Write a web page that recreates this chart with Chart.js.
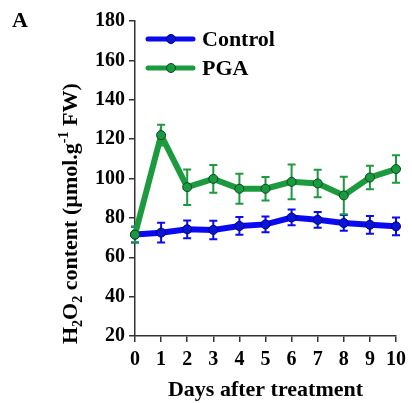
<!DOCTYPE html>
<html>
<head>
<meta charset="utf-8">
<script src="https://cdn.jsdelivr.net/npm/chart.js@4/dist/chart.umd.min.js"></script>
<style>
html,body{margin:0;padding:0;background:#fff;}
#wrap{width:412px;height:403px;}
</style>
</head>
<body>
<div id="wrap"><canvas id="c" width="412" height="403"></canvas></div>
<script>
const days = [0,1,2,3,4,5,6,7,8,9,10];
const controlValues = [71.5,72.5,74.2,73.9,75.9,76.7,80.2,79.0,77.4,76.5,75.7];
const controlErrors = [4.0,5.0,4.5,4.7,4.5,4.0,4.0,4.0,4.0,4.5,4.5];
const pgaValues = [71.5,122.0,95.6,99.8,94.8,94.8,98.3,97.5,91.4,100.5,104.8];
const pgaErrors = [4.0,5.3,9.0,7.0,7.6,6.0,8.8,7.0,9.5,6.0,7.0];
const yTicks = [20,40,60,80,100,120,140,160,180];
const seriesNames = ['Control','PGA'];

const BLUE = '#0a0af2', BLUE_PT = '#0a14d6', BLUE_EDGE = '#00007a';
const GREEN = '#1c9a3e', GREEN_PT = '#1a9a40', GREEN_EDGE = '#0b4a1c';
const SERIF = '"Liberation Serif","Times New Roman",serif';

const errorBars = {
  id: 'errorBars',
  beforeDatasetsDraw(chart) {
    const ctx = chart.ctx;
    const ys = chart.scales.y;
    chart.data.datasets.forEach((ds, i) => {
      const meta = chart.getDatasetMeta(i);
      ctx.save();
      ctx.strokeStyle = ds.errColor;
      ctx.lineWidth = 2;
      meta.data.forEach((pt, j) => {
        const v = ds.data[j].y, e = ds.errors[j];
        const yt = ys.getPixelForValue(v + e), yb = ys.getPixelForValue(v - e);
        ctx.beginPath();
        ctx.moveTo(pt.x, yt); ctx.lineTo(pt.x, yb);
        ctx.moveTo(pt.x - 4, yt); ctx.lineTo(pt.x + 4, yt);
        ctx.moveTo(pt.x - 4, yb); ctx.lineTo(pt.x + 4, yb);
        ctx.stroke();
      });
      ctx.restore();
    });
  }
};

const decorations = {
  id: 'decorations',
  afterDraw(chart) {
    const ctx = chart.ctx;
    const ca = chart.chartArea;
    ctx.save();
    ctx.fillStyle = '#000';
    // panel letter
    ctx.font = 'bold 22px ' + SERIF;
    ctx.textBaseline = 'alphabetic';
    ctx.textAlign = 'left';
    ctx.fillText('A', 12, 27);
    // x title
    ctx.textAlign = 'center';
    ctx.fillText('Days after treatment', (ca.left + ca.right) / 2, 396);
    // y title with sub/superscripts
    const parts = [
      ['H', 0], ['2', 1], ['O', 0], ['2', 1], [' content (µmol.g', 0], ['-1', -1], [' FW)', 0]
    ];
    const big = 'bold 22px ' + SERIF, small = 'bold 14px ' + SERIF;
    let total = 0;
    parts.forEach(p => { ctx.font = p[1] ? small : big; total += ctx.measureText(p[0]).width; });
    ctx.translate(77, 344);
    ctx.rotate(-Math.PI / 2);
    ctx.textAlign = 'left';
    let x = 0;
    parts.forEach(p => {
      ctx.font = p[1] ? small : big;
      const dy = p[1] === 1 ? 5 : (p[1] === -1 ? -9 : 0);
      ctx.fillText(p[0], x, dy);
      x += ctx.measureText(p[0]).width;
    });
    ctx.restore();
    // legend
    const items = [[BLUE, BLUE_PT, BLUE_EDGE, 39], [GREEN, GREEN_PT, GREEN_EDGE, 68]];
    items.forEach((it, i) => {
      ctx.save();
      ctx.strokeStyle = it[0];
      ctx.lineWidth = 5;
      ctx.lineCap = 'round';
      ctx.beginPath(); ctx.moveTo(148, it[3]); ctx.lineTo(193, it[3]); ctx.stroke();
      ctx.beginPath(); ctx.arc(171, it[3], 4.5, 0, Math.PI * 2);
      ctx.fillStyle = it[1]; ctx.fill();
      ctx.lineWidth = 1; ctx.strokeStyle = it[2]; ctx.stroke();
      ctx.fillStyle = '#000';
      ctx.font = 'bold 22px ' + SERIF;
      ctx.textAlign = 'left';
      ctx.textBaseline = 'middle';
      ctx.fillText(seriesNames[i], 202, it[3] + 1);
      ctx.restore();
    });
  }
};

const toXY = (vals) => vals.map((v, i) => ({x: days[i], y: v}));

new Chart(document.getElementById('c'), {
  type: 'line',
  data: {
    datasets: [
      {
        label: seriesNames[0], data: toXY(controlValues), errors: controlErrors, errColor: BLUE,
        borderColor: BLUE, borderWidth: 6, backgroundColor: BLUE_PT,
        pointBackgroundColor: BLUE_PT, pointBorderColor: BLUE_EDGE, pointBorderWidth: 1,
        pointRadius: 4.5, tension: 0, order: 2, clip: false
      },
      {
        label: seriesNames[1], data: toXY(pgaValues), errors: pgaErrors, errColor: GREEN,
        borderColor: GREEN, borderWidth: 6, backgroundColor: GREEN_PT,
        pointBackgroundColor: GREEN_PT, pointBorderColor: GREEN_EDGE, pointBorderWidth: 1,
        pointRadius: 4.5, tension: 0, order: 1, clip: false
      }
    ]
  },
  options: {
    responsive: false,
    animation: false,
    devicePixelRatio: 1,
    layout: { padding: { top: 21, right: 13, left: 0, bottom: 0 } },
    plugins: { legend: { display: false }, tooltip: { enabled: false }, title: { display: false } },
    scales: {
      x: {
        type: 'linear', min: 0, max: 10, offset: false,
        afterFit(s) { s.height = 67; },
        ticks: { stepSize: 1, color: '#000', font: { family: SERIF, size: 20, weight: 'bold' }, padding: 6, maxRotation: 0 },
        grid: { drawOnChartArea: false, drawTicks: true, tickLength: 6, color: '#333', lineWidth: 1.5 },
        border: { display: true, color: '#333', width: 1.5 }
      },
      y: {
        min: 20, max: 180,
        afterFit(s) { s.width = 135; },
        afterBuildTicks(s) { s.ticks = yTicks.map(v => ({ value: v })); },
        ticks: { color: '#000', font: { family: SERIF, size: 20, weight: 'bold' }, padding: 4 },
        grid: { drawOnChartArea: false, drawTicks: true, tickLength: 6, color: '#333', lineWidth: 1.5 },
        border: { display: true, color: '#333', width: 1.5 }
      }
    }
  },
  plugins: [errorBars, decorations]
});
</script>
</body>
</html>
